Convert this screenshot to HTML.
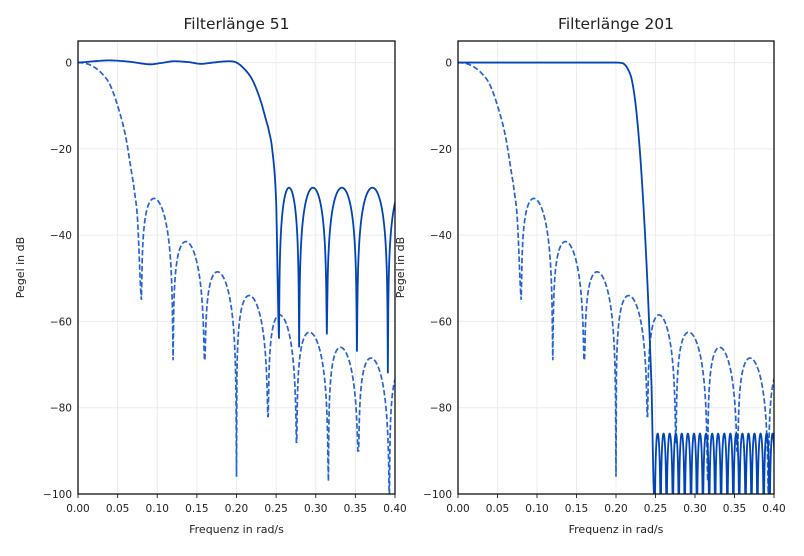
<!DOCTYPE html>
<html><head><meta charset="utf-8"><style>
body{margin:0;background:#fff;}
svg text{font-family:"DejaVu Sans","Liberation Sans",sans-serif;fill:#222;}
</style></head><body>
<svg id="chart" width="804" height="551" viewBox="0 0 804 551" xmlns="http://www.w3.org/2000/svg">
<defs>
<clipPath id="clipL"><rect x="78" y="41" width="317" height="453"/></clipPath>
<clipPath id="clipR"><rect x="458" y="41" width="316" height="453"/></clipPath>
</defs>
</svg>
<script>
// x tick labels
const xTicks = [0, 0.05, 0.10, 0.15, 0.20, 0.25, 0.30, 0.35, 0.40];
const yTicks = [0, -20, -40, -60, -80, -100];
// dashed reference (same in both panels)
const dashMainF = [0, 0.01, 0.02, 0.03, 0.04, 0.05, 0.06, 0.07, 0.075, 0.08];
const dashMainDB = [0, -0.2, -1, -2.5, -5, -10, -17, -28, -36, -55];
const dashNulls = [0.08, 0.12, 0.16, 0.2, 0.24, 0.276, 0.316, 0.354, 0.393, 0.432];
const dashDepths = [-55, -69, -69, -96, -82, -88, -97, -90, -100, -95];
const dashPeaks = [-31.5, -41.5, -48.5, -54, -58.5, -62.5, -66, -68.5, -71];
// left solid (length 51)
const l51PassF = [0, 0.02, 0.04, 0.065, 0.09, 0.105, 0.12, 0.14, 0.155, 0.17, 0.19, 0.2, 0.21, 0.22, 0.23, 0.24, 0.245, 0.25, 0.2536];
const l51PassDB = [0, 0.3, 0.5, 0.2, -0.4, -0.1, 0.3, 0.1, -0.3, 0, 0.3, 0, -1.5, -4, -8.6, -15, -20, -32, -64];
const l51Nulls = [0.2536, 0.279, 0.314, 0.352, 0.391, 0.43];
const l51Depths = [-64, -66, -63, -67, -72, -70];
const l51Peaks = [-29, -29, -29, -29, -29];
// right solid (length 201)
const l201PassF = [0, 0.04, 0.08, 0.12, 0.16, 0.19, 0.2, 0.205, 0.21, 0.215, 0.22, 0.225, 0.23, 0.235, 0.24, 0.245, 0.248];
const l201PassDB = [0, 0, 0, 0, 0, 0, 0, -0.05, -0.3, -1.5, -4, -10, -20, -34, -52, -75, -100];
const l201Nulls = [0.249, 0.2565, 0.264, 0.272, 0.2795, 0.287, 0.295, 0.3025, 0.31, 0.318, 0.3255, 0.333, 0.341, 0.3485, 0.356, 0.364, 0.3715, 0.379, 0.387, 0.3945, 0.402];
const l201Depths = [-100, -100, -100, -100, -100, -100, -100, -100, -100, -100, -100, -100, -100, -100, -100, -100, -100, -100, -100, -100, -100];
const l201Peaks = [-86, -86, -86, -86, -86, -86, -86, -86, -86, -86, -86, -86, -86, -86, -86, -86, -86, -86, -86, -86];

const NS = "http://www.w3.org/2000/svg";
const svg = document.getElementById('chart');
function mk(tag, attrs, parent){const e=document.createElementNS(NS,tag);for(const k in attrs)e.setAttribute(k,attrs[k]);(parent||svg).appendChild(e);return e;}

function lobePts(nulls, depths, peaks, skew){
  const pts=[];
  for(let i=0;i<peaks.length;i++){
    const a=nulls[i], b=nulls[i+1];
    for(let j=0;j<=80;j++){
      const u=j/80, f=a+(b-a)*u;
      const w=Math.pow(u,skew);
      let v=peaks[i]+20*Math.log10(Math.max(Math.sin(Math.PI*w),1e-6));
      const d = w<0.5 ? depths[i] : depths[i+1];
      v=Math.max(v,d);
      pts.push([f,v]);
    }
  }
  return pts;
}
// smooth (monotone-in-x) interpolation through key points
function smooth(fs, ds){
  const pts=[];
  const n=fs.length;
  for(let i=0;i<n-1;i++){
    const p0=i>0?i-1:i, p3=i+2<n?i+2:i+1;
    for(let j=0;j<12;j++){
      const t=j/12,t2=t*t,t3=t2*t;
      const cr=(a,b,c,d)=>0.5*((2*b)+(-a+c)*t+(2*a-5*b+4*c-d)*t2+(-a+3*b-3*c+d)*t3);
      const f=fs[i]+(fs[i+1]-fs[i])*t;
      pts.push([f,cr(ds[p0],ds[i],ds[i+1],ds[p3])]);
    }
  }
  pts.push([fs[n-1],ds[n-1]]);
  return pts;
}

function panel(opt){
  const x0=opt.x0,x1=opt.x1,yT=41,yB=494;
  const X=f=>x0+(f-0)/(0.4)*(x1-x0);
  const Y=d=>yB-(d+100)/105*(yB-yT);
  const g=mk('g',{});
  
  
  xTicks.forEach(t=>{
    const l=mk('line',{x1:X(t),x2:X(t),y1:yT,y2:yB,stroke:'#ececec','stroke-width':1},g);
    
    
    const tk=mk('line',{x1:X(t),x2:X(t),y1:yB,y2:yB+4,stroke:'#333','stroke-width':1},g);
    
    
    const tx=mk('text',{x:X(t),y:yB+18,'font-size':10.5,'text-anchor':'middle'},g);
    tx.textContent=t.toFixed(2);
    
    
  });
  yTicks.forEach(t=>{
    const l=mk('line',{x1:x0,x2:x1,y1:Y(t),y2:Y(t),stroke:'#ececec','stroke-width':1},g);
    
    
    const tx=mk('text',{x:x0-6,y:Y(t)+4,'font-size':10.5,'text-anchor':'end'},g);
    tx.textContent=(t<0?'\u2212'+(-t):String(t));
    
    
  });
  const toD=pts=>pts.map((p,i)=>(i?'L':'M')+X(p[0]).toFixed(2)+' '+Y(p[1]).toFixed(2)).join(' ');
  const dashPts=smooth(dashMainF,dashMainDB).concat(lobePts(dashNulls,dashDepths,dashPeaks,0.756));
  const dp=mk('path',{d:toD(dashPts),fill:'none',stroke:'#2563d6','stroke-width':1.7,'stroke-dasharray':'5.5,2.5','clip-path':'url(#'+opt.clip+')'},g);
  
  
  const sPts=smooth(opt.passF,opt.passDB).concat(lobePts(opt.nulls,opt.depths,opt.peaks,1));
  const sp=mk('path',{d:toD(sPts),fill:'none',stroke:'#0044b8','stroke-width':1.8,'clip-path':'url(#'+opt.clip+')'},g);
  
  
  const fr=mk('rect',{x:x0,y:yT,width:x1-x0,height:yB-yT,fill:'none',stroke:'#111','stroke-width':1.3},g);
  
  
  const ti=mk('text',{x:(x0+x1)/2,y:29,'font-size':15.5,'text-anchor':'middle'},g);
  ti.textContent=opt.title;
  
  
  const xl=mk('text',{x:(x0+x1)/2,y:533,'font-size':11,'text-anchor':'middle'},g);
  xl.textContent='Frequenz in rad/s';
  
  
  const yl=mk('text',{x:0,y:0,'font-size':11,'text-anchor':'middle',transform:'translate('+(opt.ylx)+','+((yT+yB)/2)+') rotate(-90)'},g);
  yl.textContent='Pegel in dB';
  
  
}
panel({name:'panel-length-51',x0:78,x1:395,clip:'clipL',title:'Filterlänge 51',ylx:24,passF:l51PassF,passDB:l51PassDB,nulls:l51Nulls,depths:l51Depths,peaks:l51Peaks});
panel({name:'panel-length-201',x0:458,x1:774,clip:'clipR',title:'Filterlänge 201',ylx:404,passF:l201PassF,passDB:l201PassDB,nulls:l201Nulls,depths:l201Depths,peaks:l201Peaks});
</script>
</body></html>
